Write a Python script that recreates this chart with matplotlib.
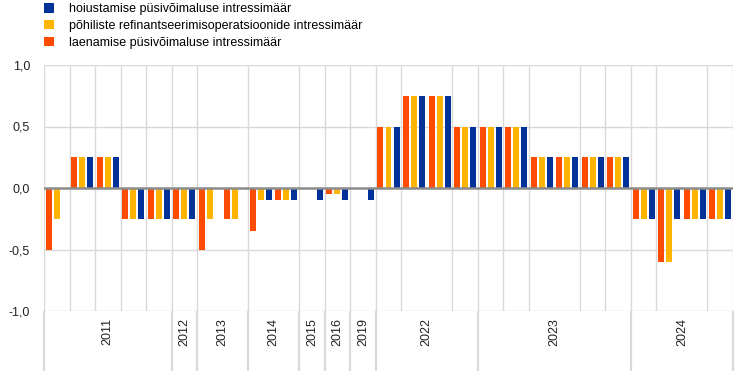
"""
EKP intressimäärade muutused (protsendipunktides) istungite kaupa
"""
import numpy as np
import matplotlib
matplotlib.use('Agg')
import matplotlib.pyplot as plt
from matplotlib.ticker import FuncFormatter

plt.rcParams['font.family'] = ['Liberation Sans', 'DejaVu Sans']

# data: one value per meeting, three rates
years = ['2011', '2012', '2013', '2014', '2015', '2016', '2019', '2022', '2023', '2024']
meetings_per_year = [5, 1, 2, 2, 1, 1, 1, 4, 6, 4]

deposit = [0, 0.25, 0.25, -0.25, -0.25, -0.25, 0, 0, -0.1, -0.1, -0.1, -0.1, -0.1,
           0.5, 0.75, 0.75, 0.5, 0.5, 0.5, 0.25, 0.25, 0.25, 0.25,
           -0.25, -0.25, -0.25, -0.25]
mro = [-0.25, 0.25, 0.25, -0.25, -0.25, -0.25, -0.25, -0.25, -0.1, -0.1, 0, -0.05, 0,
       0.5, 0.75, 0.75, 0.5, 0.5, 0.5, 0.25, 0.25, 0.25, 0.25,
       -0.25, -0.6, -0.25, -0.25]
lending = [-0.5, 0.25, 0.25, -0.25, -0.25, -0.25, -0.5, -0.25, -0.35, -0.1, 0, -0.05, 0,
           0.5, 0.75, 0.75, 0.5, 0.5, 0.5, 0.25, 0.25, 0.25, 0.25,
           -0.25, -0.6, -0.25, -0.25]

labels = ['hoiustamise püsivõimaluse intressimäär',
          'põhiliste refinantseerimisoperatsioonide intressimäär',
          'laenamise püsivõimaluse intressimäär']
colors = {'blue': '#003299', 'yellow': '#FFB400', 'orange': '#FF4B00'}
grid_col = '#D9D9D9'
fs = 9

n = len(deposit)
x = np.arange(n) + 0.5
w = 0.235
step = 0.314

fig = plt.figure(figsize=(7.42, 3.71), dpi=100)
ax = fig.add_axes([44 / 742, 60 / 371, 689 / 742, 246 / 371])

b_blue = ax.bar(x + step, deposit, w, color=colors['blue'], zorder=2)
b_yel = ax.bar(x, mro, w, color=colors['yellow'], zorder=2)
b_ora = ax.bar(x - step, lending, w, color=colors['orange'], zorder=2)

ax.set_xlim(0, n)
ax.set_ylim(-1, 1)
ax.set_yticks([-1, -0.5, 0, 0.5, 1])
ax.yaxis.set_major_formatter(FuncFormatter(lambda v, p: f'{v:.1f}'.replace('.', ',')))
ax.axhline(0, color='#8C8C8C', lw=1.8, zorder=3)

# category grid lines
ax.set_xticks(np.arange(n + 1), minor=True)
ax.grid(True, which='minor', axis='x', color=grid_col, lw=1)
ax.grid(True, which='major', axis='y', color=grid_col, lw=1)
ax.set_axisbelow(True)

# year labels and separators below the plot
bounds = np.concatenate([[0], np.cumsum(meetings_per_year)])
centers = (bounds[:-1] + bounds[1:]) / 2
ax.set_xticks(centers)
ax.set_xticklabels(years, rotation=90, fontsize=fs)
ax.vlines(bounds, -0.25, 0, transform=ax.get_xaxis_transform(),
          color=grid_col, lw=1.6, clip_on=False)

ax.tick_params(axis='x', which='both', length=0, pad=5, colors='#222222')
ax.tick_params(axis='y', length=0, pad=10, labelsize=fs, colors='#222222')
for s in ax.spines.values():
    s.set_visible(False)

fig.legend([b_blue, b_yel, b_ora], labels, loc='upper left',
           bbox_to_anchor=(44 / 742, 1 - 3 / 371), frameon=False, fontsize=fs,
           handlelength=0.8, handleheight=0.8, handletextpad=1.2,
           labelspacing=0.38, borderpad=0, borderaxespad=0)

fig.savefig('out.png', dpi=100)
